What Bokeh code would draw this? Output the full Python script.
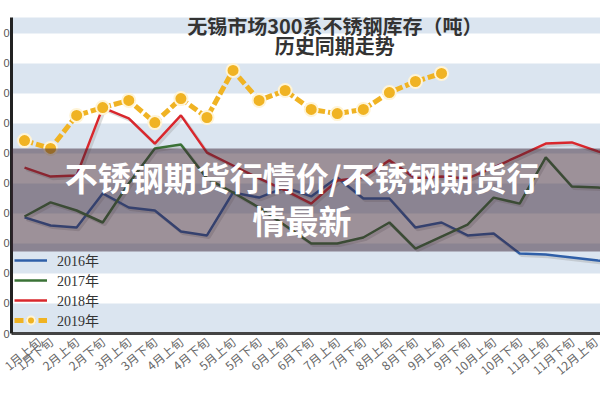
from bokeh.plotting import figure
from bokeh.models import FixedTicker, BoxAnnotation, Label, Legend, LegendItem, Range1d
from bokeh.embed import file_html
from bokeh.resources import INLINE

# ---------------- data ----------------
periods = ["1月上旬", "1月下旬", "2月上旬", "2月下旬", "3月上旬", "3月下旬",
           "4月上旬", "4月下旬", "5月上旬", "5月下旬", "6月上旬", "6月下旬",
           "7月上旬", "7月下旬", "8月上旬", "8月下旬", "9月上旬", "9月下旬",
           "10月上旬", "10月下旬", "11月上旬", "11月下旬", "12月上旬", "12月下旬"]

y2016 = [138700, 136000, 135300, 146700, 142000, 141000, 134000, 132700,
         147000, 145300, 148700, 145700, 152000, 145000, 145000, 135300,
         137000, 132700, 133300, 126700, 126300, 125300, 124300, 123700]
y2017 = [139000, 143700, 141000, 137000, 150000, 161700, 163000, 151700,
         147000, 142000, 136000, 130000, 130000, 132000, 137000, 128300,
         132300, 136300, 145300, 143300, 158700, 149000, 148700, 147700]
y2018 = [155300, 152300, 152700, 175300, 171700, 163300, 172700, 160300,
         156000, 151700, 147700, 143300, 151000, 152000, 157700, 151700,
         152300, 151700, 155300, 159300, 163300, 163700, 160700, 158300]
y2019 = [164300, 161700, 172700, 175300, 177700, 170300, 178300, 172000,
         187700, 177700, 181000, 174700, 173300, 174700, 180300, 184000,
         186700]

series_names = ["2016年", "2017年", "2018年", "2019年"]
y_ticks = list(range(100000, 210001, 10000))

title_line1 = "无锡市场300系不锈钢库存（吨）"
title_line2 = "历史同期走势"
banner_line1 = "不锈钢期货行情价/不锈钢期货行"
banner_line2 = "情最新"

# ---------------- figure ----------------
X0, X1 = -0.5, 22.1
Y0, Y1 = 100000, 205333

p = figure(width=600, height=400, output_backend="svg", toolbar_location=None,
           x_range=Range1d(X0, X1), y_range=Range1d(Y0, Y1),
           min_border_left=0, min_border_right=0, min_border_top=17,
           min_border_bottom=67)
p.outline_line_color = None
p.background_fill_color = "white"
p.border_fill_color = "white"

# alternating horizontal bands
p.xgrid.visible = False
p.ygrid.visible = False
for k in range(0, len(y_ticks) - 1, 2):
    p.add_layout(BoxAnnotation(bottom=y_ticks[k], top=y_ticks[k + 1],
                               fill_color="#dbe5f0", fill_alpha=1.0,
                               line_color=None, level="underlay"))

# y axis (labels cut off in the original, only trailing "0" visible)
p.yaxis.ticker = FixedTicker(ticks=y_ticks)
p.yaxis.major_label_overrides = {t: "0" for t in y_ticks}
p.yaxis.major_tick_out = 0
p.yaxis.major_tick_in = 0
p.yaxis.minor_tick_out = 0
p.yaxis.minor_tick_in = 0
p.yaxis.major_label_standoff = 2
p.yaxis.major_label_text_font_size = "11px"
p.yaxis.major_label_text_color = "#555555"
p.yaxis.axis_line_width = 3
p.yaxis.axis_line_color = "#222222"

# x axis
p.xaxis.ticker = FixedTicker(ticks=list(range(len(periods))))
p.xaxis.major_label_overrides = {i: s for i, s in enumerate(periods)}
p.xaxis.major_label_orientation = 0.7
p.xaxis.major_tick_out = 0
p.xaxis.major_tick_in = 0
p.xaxis.minor_tick_out = 0
p.xaxis.minor_tick_in = 0
p.xaxis.major_label_standoff = 6
p.xaxis.major_label_text_font = "Noto Sans CJK SC"
p.xaxis.major_label_text_font_size = "12px"
p.xaxis.major_label_text_color = "#666666"
p.xaxis.axis_line_width = 3
p.xaxis.axis_line_color = "#444444"

# ---------------- lines ----------------
def xs(vals):
    return list(range(len(vals)))

# soft shadows under the lines
shadow_dx, shadow_dy = 0.08, 700
for vals in (y2016, y2017, y2018):
    p.line([x + shadow_dx for x in xs(vals)], [v - shadow_dy for v in vals],
           line_color="#9a9a9a", line_alpha=0.35, line_width=3)

r16 = p.line(xs(y2016), y2016, line_color="#2f5fa8", line_width=2.5)
r17 = p.line(xs(y2017), y2017, line_color="#3a7236", line_width=2.5)
r18 = p.line(xs(y2018), y2018, line_color="#d9272d", line_width=2.5)
r19l = p.line(xs(y2019), y2019, line_color="#f0b323", line_width=5,
              line_dash="9 3")
r19m = p.scatter(xs(y2019), y2019, size=13, fill_color="#f0b323",
                 line_color="#fff4d6", line_width=2)

legend = Legend(items=[LegendItem(label=series_names[0], renderers=[r16]),
                       LegendItem(label=series_names[1], renderers=[r17]),
                       LegendItem(label=series_names[2], renderers=[r18]),
                       LegendItem(label=series_names[3], renderers=[r19l, r19m])],
                location="bottom_left")
legend.background_fill_alpha = 0
legend.border_line_alpha = 0
legend.margin = 0
legend.padding = 3
legend.spacing = 0
legend.glyph_width = 33
legend.glyph_height = 20
legend.label_height = 20
legend.label_standoff = 10
legend.label_text_font = "'Liberation Serif', 'Noto Sans CJK SC'"
legend.label_text_font_size = "14px"
legend.label_text_color = "#333333"
p.add_layout(legend)

# ---------------- annotations ----------------
def dx(px):   # pixel -> data x
    return X0 + (px - 8) * (X1 - X0) / 592.0

def dy(py):   # pixel -> data y
    return Y0 + (333 - py) * (Y1 - Y0) / 316.0

for txt, px, py in ((title_line1, 333, 25), (title_line2, 333, 45)):
    p.add_layout(Label(x=dx(px), y=dy(py), text=txt, text_align="center",
                       text_baseline="middle", text_font="Noto Sans CJK SC",
                       text_font_style="bold", text_font_size="20px",
                       text_color="#333333"))

banner = BoxAnnotation(left=0, right=600, top=148, bottom=251,
                       left_units="canvas", right_units="canvas",
                       top_units="canvas", bottom_units="canvas",
                       fill_color="#3c2434", fill_alpha=0.5, line_color=None)
p.add_layout(banner)

for txt, py in ((banner_line1, 176), (banner_line2, 219)):
    p.add_layout(Label(x=dx(300), y=dy(py), text=txt, text_align="center",
                       text_baseline="middle", text_font="Noto Sans CJK SC",
                       text_font_style="bold", text_font_size="33px",
                       text_color="white"))

open("out.html", "w").write(file_html(p, INLINE))
